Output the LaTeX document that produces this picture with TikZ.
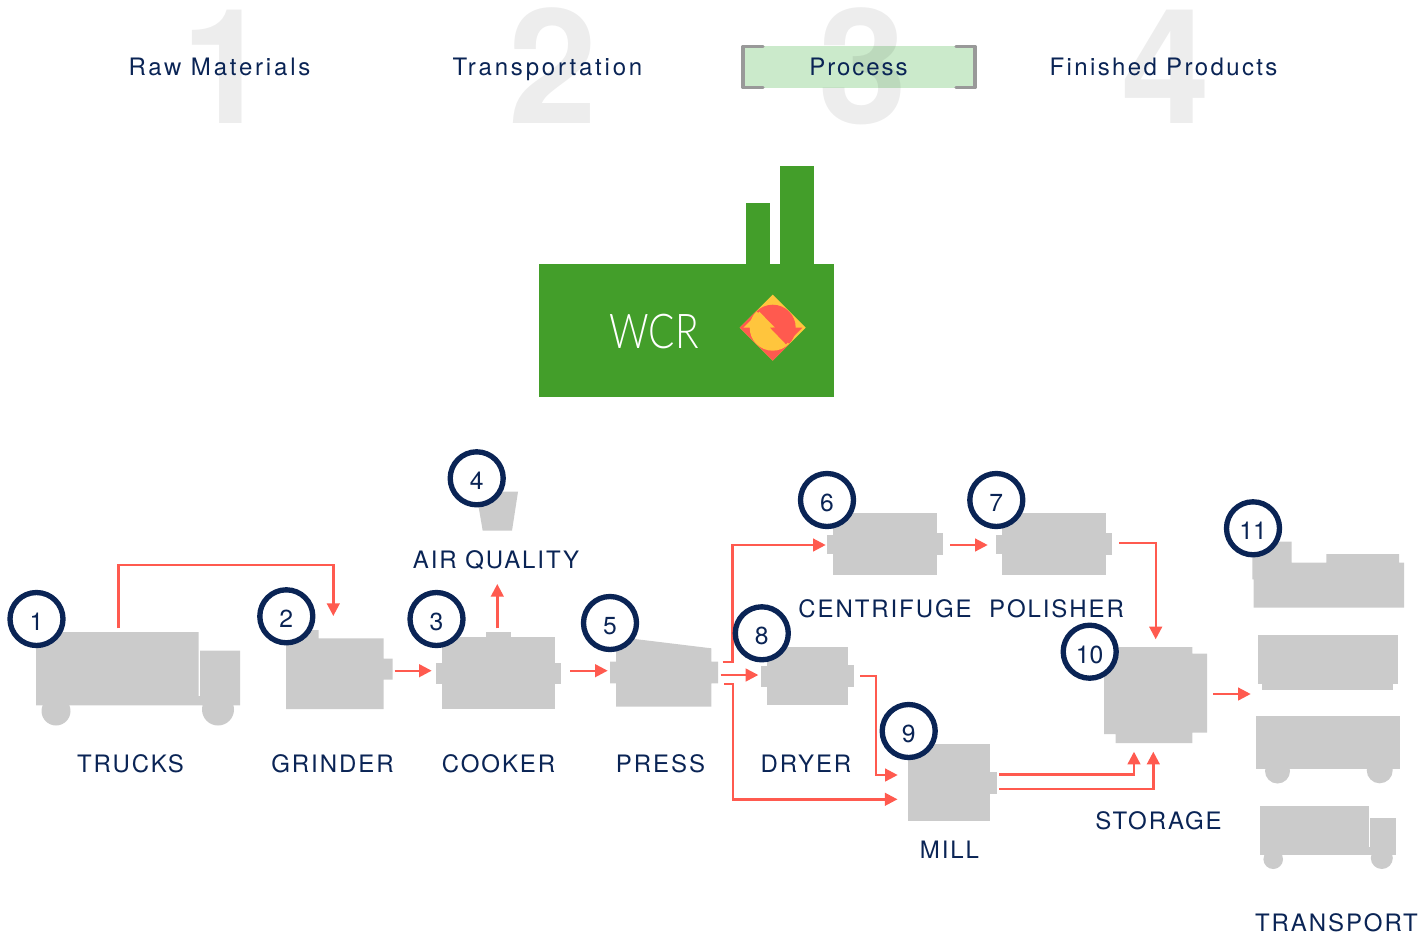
\documentclass[tikz,border=0pt]{standalone}
\usepackage{fontspec}
\usepackage{xcolor}
\usepackage{tikz}
\usetikzlibrary{arrows.meta,calc,positioning}
\setmainfont{TeX Gyre Heros}
\newfontfamily\spacedfont[LetterSpace=8]{TeX Gyre Heros}
\newfontfamily\widefont[LetterSpace=11.7]{TeX Gyre Heros}
\newfontfamily\midfont[LetterSpace=10]{TeX Gyre Heros}
\newfontfamily\thinfont{Lato Light}
\definecolor{navy}{HTML}{0A2455}
\definecolor{flowred}{HTML}{FF5A4F}
\definecolor{sunny}{HTML}{FFC53D}
\definecolor{plant}{HTML}{439E2A}
\definecolor{paleleaf}{HTML}{CBEACB}
\definecolor{steel}{HTML}{CBCBCB}
\definecolor{bracket}{HTML}{999999}
\tikzstyle{flow}   =[draw=flowred, line width=1.8pt,
                     -{Triangle[length=9.5pt, width=9.5pt]}]
\tikzstyle{machine}=[fill=steel]
\tikzstyle{marker} =[circle, draw=navy, fill=white, minimum size=39.75pt,
                     line width=4pt, inner sep=0pt, text=navy,
                     text height=17pt, text depth=0pt,
                     font=\fontsize{18.5}{20}\selectfont]
\tikzstyle{caption}=[inner sep=0pt, anchor=base, text=navy,
                     font=\spacedfont\fontsize{18}{20}\selectfont]
\tikzstyle{bignum} =[inner sep=0pt, anchor=base, text=black, text opacity=0.07,
                     font=\fontsize{120}{120}\selectfont\bfseries]
\begin{document}
\begin{tikzpicture}[x=0.75pt, y=-0.75pt]
    \useasboundingbox (0,0) rectangle (1420,935);

    % header
    \fill[paleleaf] (743,46) rectangle (975,88);
    \draw[bracket, line width=2.6pt, line join=round, line cap=round]
        (763,46.5) -- (743,46.5) -- (743,87.5) -- (763,87.5);
    \draw[bracket, line width=2.6pt, line join=round, line cap=round]
        (956,46.5) -- (975,46.5) -- (975,87.5) -- (956,87.5);
    \node (one)   [bignum] at (226,123) {1};
    \node (two)   [bignum] at (553,123) {2};
    \node (three) [bignum] at (863,123) {3};
    \node (four)  [bignum] at (1165.5,123) {4};
    \node (raw)       [caption, font=\widefont\fontsize{18}{20}\selectfont] at (219.5,75.5) {Raw Materials};
    \node (transp)    [caption, font=\widefont\fontsize{18}{20}\selectfont] at (547.5,75.5) {Transportation};
    \node (process)   [caption] at (858.5,75.5) {Process};
    \node (finished)  [caption, font=\midfont\fontsize{18}{20}\selectfont] at (1163.5,75.5) {Finished Products};

    % factory
    \fill[plant] (539,264.3) rectangle (834.3,396.7);
    \fill[plant] (746,203.3) rectangle (770,265);
    \fill[plant] (780,166) rectangle (814,265);
    \node (wcr) [inner sep=0pt, anchor=base, text=white, xscale=0.81,
                 font=\thinfont\fontsize{36}{37}\selectfont] at (654,348) {WCR};

    % logo
    \begin{scope}[shift={(772.7,327.7)}]
        \fill[sunny] (-33,0) -- (0,-33) -- (33,0) -- (0,33) -- cycle;
        \fill[flowred] (-16.5,-16.5) -- (-33,0) -- (0,33) -- (16.5,16.5) -- cycle;
        \begin{scope}
            \clip (-40,-40) -- (40,40) -- (60,-60) -- cycle;
            \fill[flowred] (0,0) circle (23);
        \end{scope}
        \begin{scope}
            \clip (-40,-40) -- (40,40) -- (-60,60) -- cycle;
            \fill[sunny] (0,0) circle (23);
        \end{scope}
        \fill[sunny] (-29.4,0) -- (2.3,0) -- (-13.4,-16) -- cycle;
        \fill[flowred] (-2.7,0) -- (29.6,0) -- (13.3,16.6) -- cycle;
    \end{scope}

    % trucks
    \fill[machine] (36,632) -- (198.5,632) -- (198.5,696) -- (200,696)
        -- (200,650.7) -- (240,650.7) -- (240,705.3) -- (36,705.3) -- cycle;
    \fill[machine] (56,711) circle (14.5);
    \fill[machine] (218,709.5) circle (16);
    % grinder
    \fill[machine] (286,630) -- (318.7,630) -- (318.7,638.3) -- (383.7,638.3)
        -- (383.7,658.7) -- (392.7,658.7) -- (392.7,679.7) -- (383.7,679.7)
        -- (383.7,709) -- (286,709) -- cycle;
    % cooker
    \fill[machine] (441.7,637) rectangle (555.3,709);
    \fill[machine] (485.7,632.3) rectangle (511,638);
    \fill[machine] (436,662.7) rectangle (561,684);
    % air quality
    \fill[machine] (476,491.7) -- (518,491.7) -- (512,530.7) -- (482.7,530.7) -- cycle;
    % press
    \fill[machine] (616,636.7) -- (711.3,648.3) -- (711.3,661.7) -- (718,661.7)
        -- (718,683.3) -- (711.3,683.3) -- (711.3,706.7) -- (616,706.7)
        -- (616,683.3) -- (610,683.3) -- (610,661.7) -- (616,661.7) -- cycle;
    % centrifuge
    \fill[machine] (833.3,513.3) rectangle (937.3,575.3);
    \fill[machine] (826.7,534.7) rectangle (834,554);
    \fill[machine] (937,533.3) rectangle (943.3,555.3);
    % polisher
    \fill[machine] (1002.3,513.3) rectangle (1106.3,575.3);
    \fill[machine] (996,534.7) rectangle (1003,554);
    \fill[machine] (1106,533.3) rectangle (1112.3,555.3);
    % dryer
    \fill[machine] (766.7,646.7) rectangle (848,704.7);
    \fill[machine] (761.3,665.7) rectangle (767,686.7);
    \fill[machine] (847.5,664.7) rectangle (854,686.7);
    % mill
    \fill[machine] (908.3,744) rectangle (990,820.7);
    \fill[machine] (989.5,772.3) rectangle (997.3,794);
    % storage
    \fill[machine] (1104,647) -- (1192.3,647) -- (1192.3,653.7) -- (1207,653.7)
        -- (1207,732.7) -- (1192.3,732.7) -- (1192.3,743) -- (1115.7,743)
        -- (1115.7,734) -- (1104,734) -- cycle;
    % transport
    \fill[machine] (1252.3,541.7) -- (1291.7,541.7) -- (1291.7,562.7) -- (1326.3,562.7)
        -- (1326.3,554) -- (1399,554) -- (1399,562.7) -- (1404,562.7) -- (1404,607.7)
        -- (1253.7,607.7) -- (1253.7,579.3) -- (1252.3,579.3) -- cycle;
    \fill[machine] (1257.7,635) rectangle (1398.3,683.7);
    \fill[machine] (1262.3,683) rectangle (1392.7,690);
    \fill[machine] (1256.3,716) rectangle (1400,769);
    \fill[machine] (1277.5,771) circle (12.5);
    \fill[machine] (1379.7,770.3) circle (13);
    \fill[machine] (1260,806) rectangle (1368.7,855.3);
    \fill[machine] (1368,847) rectangle (1396,855.3);
    \fill[machine] (1369.7,818.3) rectangle (1396,855.3);
    \fill[machine] (1273.2,859.2) circle (9.8);
    \fill[machine] (1381.8,858) circle (11);

    % connector ends
    \coordinate (trucksout)   at (118.3,628.3);
    \coordinate (trucksturn)  at (333.3,565);
    \coordinate (grinderin)   at (333.3,616);
    \coordinate (grinderout)  at (394.5,670.7);
    \coordinate (cookerin)    at (431.7,670.7);
    \coordinate (cookerup)    at (497.3,628.3);
    \coordinate (airin)       at (497.3,584);
    \coordinate (cookerout)   at (570.3,670.7);
    \coordinate (pressin)     at (607.7,670.7);
    \coordinate (pressa)      at (722.7,661.7);
    \coordinate (pressb)      at (720.7,675);
    \coordinate (pressc)      at (724.3,684);
    \coordinate (turna)       at (732.5,545);
    \coordinate (turnc)       at (733,799.3);
    \coordinate (centin)      at (825.7,545);
    \coordinate (dryerin)     at (758.3,675);
    \coordinate (millina)     at (897.5,799.3);
    \coordinate (dryerout)    at (860,676);
    \coordinate (turnd)       at (875.7,775);
    \coordinate (millinb)     at (897.7,775);
    \coordinate (centout)     at (950.3,545);
    \coordinate (polishin)    at (987.7,545);
    \coordinate (polishout)   at (1119,542.7);
    \coordinate (storetop)    at (1155.7,639.3);
    \coordinate (millouta)    at (999.3,774.3);
    \coordinate (milloutb)    at (999.3,789);
    \coordinate (storea)      at (1134,751.7);
    \coordinate (storeb)      at (1153.3,751.7);
    \coordinate (storeout)    at (1213.3,694);
    \coordinate (transin)     at (1250.7,694);

    \draw[flow] (trucksout) |- (trucksturn) -- (grinderin);
    \draw[flow] (grinderout) -- (cookerin);
    \draw[flow] (cookerup) -- (airin);
    \draw[flow] (cookerout) -- (pressin);
    \draw[flow] (pressa) -| (turna) -- (centin);
    \draw[flow] (pressb) -- (dryerin);
    \draw[flow] (pressc) -| (turnc) -- (millina);
    \draw[flow] (dryerout) -| (turnd) -- (millinb);
    \draw[flow] (centout) -- (polishin);
    \draw[flow] (polishout) -| (storetop);
    \draw[flow] (millouta) -| (storea);
    \draw[flow] (milloutb) -| (storeb);
    \draw[flow] (storeout) -- (transin);

    % numbered markers
    \node (m1)  [marker] at (36.5,619) {1};
    \node (m2)  [marker] at (286.3,616.3) {2};
    \node (m3)  [marker] at (436.5,619) {3};
    \node (m4)  [marker] at (476.7,478.3) {4};
    \node (m5)  [marker] at (610,623) {5};
    \node (m6)  [marker] at (827,500) {6};
    \node (m7)  [marker] at (996.3,500) {7};
    \node (m8)  [marker] at (761.8,633.3) {8};
    \node (m9)  [marker] at (908.7,731) {9};
    \node (m10) [marker] at (1089.7,651.7) {10};
    \node (m11) [marker] at (1253,528.3) {11};

    % captions
    \node (trucks)     [caption] at (130.5,772) {TRUCKS};
    \node (grinder)    [caption] at (332.5,772) {GRINDER};
    \node (cooker)     [caption] at (498.5,772) {COOKER};
    \node (press)      [caption] at (660.5,772) {PRESS};
    \node (dryer)      [caption] at (806,772) {DRYER};
    \node (air)        [caption] at (496,568) {AIR QUALITY};
    \node (centrifuge) [caption] at (885,617) {CENTRIFUGE};
    \node (polisher)   [caption] at (1056.5,617) {POLISHER};
    \node (storage)    [caption] at (1158.5,829) {STORAGE};
    \node (mill)       [caption] at (949.5,858) {MILL};
    \node (transport)  [caption] at (1336.5,931.5) {TRANSPORT};
\end{tikzpicture}
\end{document}
